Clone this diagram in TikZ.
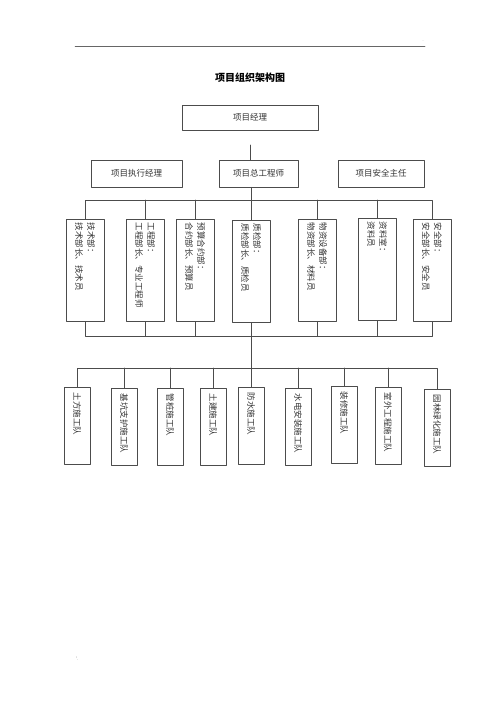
\documentclass[tikz,border=0pt]{standalone}
\usepackage{fontspec}
\usepackage{graphicx}
\newfontfamily\cjk{Noto Sans CJK SC}
\newcommand{\vlabel}[2]{\rotatebox{-90}{\parbox{#1}{\raggedright #2}}}

\begin{document}
\begin{tikzpicture}[line cap=round,line join=round,x=1pt,y=-1pt,
		box/.style={draw=black!70,line width=0.6pt,inner sep=0pt,text=black!80,font=\cjk\fontsize{8.5}{12}\selectfont},
		hbox/.style={box,minimum height=25pt},
		dept/.style={box,minimum width=38pt,minimum height=102pt},
		team/.style={box,minimum width=26pt,minimum height=77pt},
		link/.style={draw=black!70,line width=0.6pt}]
		\useasboundingbox (0,0) rectangle (500,708);
		% page rule and title
		\draw [line width=0.5pt,black!60] (75,46)-- (425,46);
		\node [font=\tiny,black!50] (mark1) at (423,41) {.};
		\node [font=\tiny,black!50] (mark2) at (77,659) {'.};
		\node [font=\cjk\bfseries\fontsize{10}{12}\selectfont] (title) at (250,78) {项目组织架构图};
		% top levels
		\node [hbox,minimum width=136pt] (pm) at (250,117.5) {项目经理};
		\node [hbox,minimum width=91pt,minimum height=27pt] (exec) at (136.5,173.5) {项目执行经理};
		\node [hbox,minimum width=79pt,minimum height=27pt] (chief) at (258.5,173.5) {项目总工程师};
		\node [hbox,minimum width=86pt,minimum height=27pt] (safety) at (381,173.5) {项目安全主任};
		% departments
		\node [dept] (d1) at (85,270) {\vlabel{94pt}{技术部：\\技术部长、技术员}};
		\node [dept] (d2) at (145,270) {\vlabel{94pt}{工程部：\\工程部长、专业工程师}};
		\node [dept] (d3) at (195,270) {\vlabel{94pt}{预算合约部：\\合约部长、预算员}};
		\node [dept] (d4) at (251,271) {\vlabel{94pt}{质检部：\\质检部长、质检员}};
		\node [dept] (d5) at (317,270) {\vlabel{94pt}{物资设备部：\\物资部长、材料员}};
		\node [dept] (d6) at (377,269) {\vlabel{94pt}{资料室：\\资料员}};
		\node [dept] (d7) at (432,270) {\vlabel{94pt}{安全部：\\安全部长、安全员}};
		% teams
		\node [team] (t1) at (77,426) {\vlabel{67pt}{土方施工队}};
		\node [team] (t2) at (124,427) {\vlabel{67pt}{基坑支护施工队}};
		\node [team] (t3) at (170,427) {\vlabel{67pt}{管桩施工队}};
		\node [team] (t4) at (213,427) {\vlabel{67pt}{土建施工队}};
		\node [team] (t5) at (251,426) {\vlabel{67pt}{防水施工队}};
		\node [team] (t6) at (298,427) {\vlabel{67pt}{水电安装施工队}};
		\node [team] (t7) at (344,425) {\vlabel{67pt}{装修施工队}};
		\node [team] (t8) at (388,426) {\vlabel{67pt}{室外工程施工队}};
		\node [team] (t9) at (437,428) {\vlabel{67pt}{园林绿化施工队}};
		% connectors
		\coordinate (gap) at (250,145);
		\coordinate (bus1) at (251,200);
		\coordinate (bus2) at (251,336);
		\coordinate (bus3) at (251,368);
		\draw [link] (gap)-- (gap |- chief.north);
		\draw [link] (bus1 |- chief.south)-- (bus1);
		\draw [link] (d1.north)-- (d1.north |- bus1)-- (d7.north |- bus1)-- (d7.north);
		\draw [link] (d1.south)-- (d1.south |- bus2)-- (d7.south |- bus2)-- (d7.south);
		\foreach \i in {2,...,6} {
			\draw [link] (d\i.north)-- (d\i.north |- bus1);
			\draw [link] (d\i.south)-- (d\i.south |- bus2);
		}
		\draw [link] (d4.south)-- (d4.south |- bus3);
		\draw [link] (t1.north)-- (t1.north |- bus3)-- (t9.north |- bus3)-- (t9.north);
		\foreach \i in {2,...,8}
			\draw [link] (t\i.north)-- (t\i.north |- bus3);
	\end{tikzpicture}
\end{document}
